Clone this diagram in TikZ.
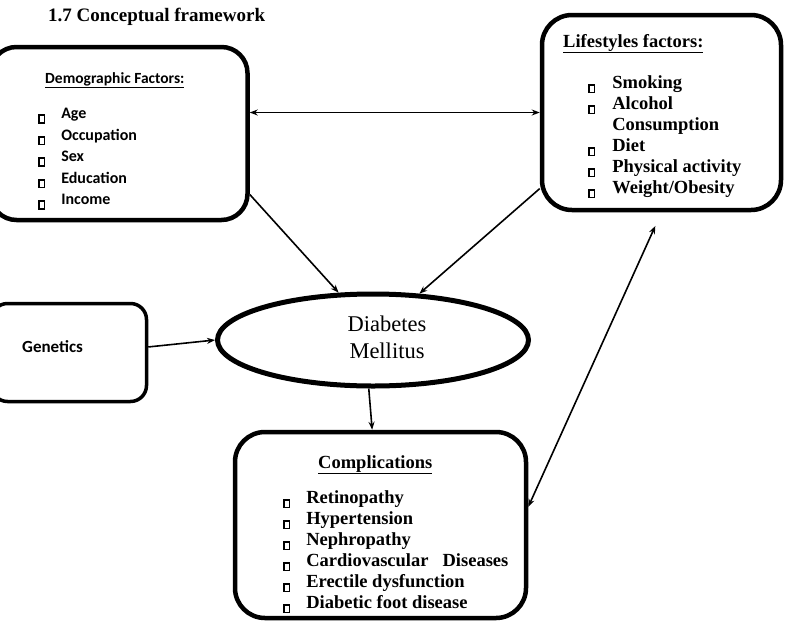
\documentclass[tikz,border=0pt]{standalone}
\usepackage{fontspec}
\setmainfont{Liberation Serif}
\newfontfamily\calfont{Carlito}
\usetikzlibrary{arrows.meta,shapes.geometric}

\newcommand{\chk}{\raisebox{-3.5pt}{\setlength{\fboxsep}{0pt}\setlength{\fboxrule}{1.8pt}\fbox{\rule{0pt}{6pt}\rule{3.5pt}{0pt}}}}

\begin{document}
\begin{tikzpicture}[x=1pt,y=-1pt,
 frame/.style={draw,line width=4.5pt,rounded corners=26pt,inner sep=0pt},
 arr/.style={-{Stealth[length=8pt,width=6pt]},line width=1.6pt},
 dbl/.style={{Stealth[length=8pt,width=6pt]}-{Stealth[length=8pt,width=6pt]},line width=1.6pt},
 hd/.style={anchor=base west,inner sep=0pt},
 lst/.style={anchor=base west,inner sep=0pt}]
\useasboundingbox (0,0) rectangle (788,625);
\clip (0,0) rectangle (788,625);
\node[hd,font=\bfseries\fontsize{19}{22}\selectfont] (title) at (48,21) {1.7 Conceptual framework};
% boxes
\node[frame,minimum width=257pt,minimum height=173pt] (demo) at (119,133.5) {};
\node[frame,minimum width=239pt,minimum height=195pt,rounded corners=30pt] (life) at (661.5,112.5) {};
\node[frame,line width=3.5pt,rounded corners=16pt,minimum width=155pt,minimum height=98pt] (gen) at (69,352.5) {};
\node[draw,ellipse,line width=5pt,minimum width=311pt,minimum height=92pt,inner sep=0pt] (ell) at (373,340) {};
\node[frame,minimum width=291pt,minimum height=186pt,rounded corners=30pt] (comp) at (380.5,525) {};
% texts
\node[hd,font=\calfont\bfseries\fontsize{15.5}{18}\selectfont] (demohd) at (45,83) {\underline{Demographic Factors:}};
\node[lst,font=\calfont\bfseries\fontsize{16}{21.5}\selectfont] (demolist) at (38,118.5) {\begin{tabular}[t]{@{}l@{\hspace{16pt}}l@{}}
 \chk & Age\\ \chk & Occupation\\ \chk & Sex\\ \chk & Education\\ \chk & Income
\end{tabular}};
\node[hd,font=\bfseries\fontsize{18.5}{22}\selectfont] (lifehd) at (563,47) {\underline{Lifestyles factors:}};
\node[lst,font=\bfseries\fontsize{18.5}{21}\selectfont] (lifelist) at (588,88) {\begin{tabular}[t]{@{}l@{\hspace{17pt}}l@{}}
 \chk & Smoking\\ \chk & Alcohol\\ & Consumption\\ \chk & Diet\\ \chk & Physical activity\\ \chk & Weight/Obesity
\end{tabular}};
\node[hd,font=\calfont\bfseries\fontsize{17}{20}\selectfont] (gentxt) at (22,352) {Genetics};
\node[font=\fontsize{22.5}{27}\selectfont,align=center] (dmtxt) at (387,337) {Diabetes\\Mellitus};
\node[hd,font=\bfseries\fontsize{18.5}{22}\selectfont] (comphd) at (318,468) {\underline{Complications}};
\node[lst,font=\bfseries\fontsize{18.5}{21}\selectfont] (complist) at (283,503) {\begin{tabular}[t]{@{}l@{\hspace{16pt}}l@{}}
 \chk & Retinopathy\\ \chk & Hypertension\\ \chk & Nephropathy\\ \chk & Cardiovascular\hspace{14pt}Diseases\\ \chk & Erectile dysfunction\\ \chk & Diabetic foot disease
\end{tabular}};
% connectors
\draw[dbl] (demo.east |- life.west) -- (life.west);
\draw[arr] (demo.-25) -- (ell.126);
\draw[arr] (life.212) -- (ell.45);
\draw[arr] (gen.4) -- (ell.west);
\draw[arr] (ell.265) -- (comp.95);
\draw[dbl,shorten >=15pt] (comp.7) -- (life.south);
\end{tikzpicture}
\end{document}
